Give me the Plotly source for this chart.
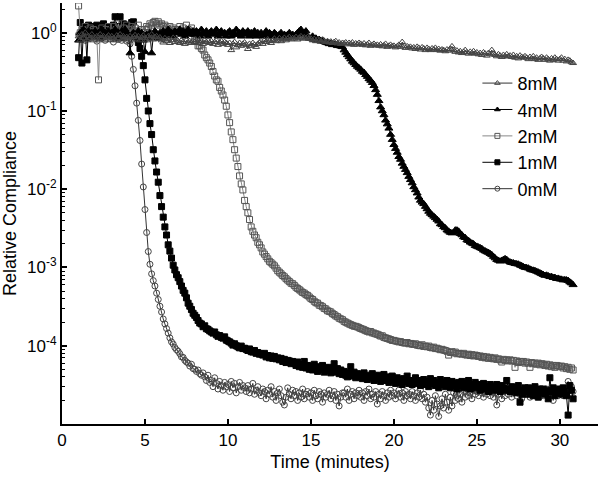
import plotly.graph_objects as go

# sampling grid: one reading every 0.1 min from 1.0 to 30.8 min
time_min = [round(1.0 + 0.1 * i, 1) for i in range(299)]

c_0mM = [
    0.95, 0.85, 1.05, 0.9, 0.8, 1.0, 0.92, 0.85, 1.1, 0.88,
    0.9, 0.78, 0.95, 1.0, 0.85, 0.92, 0.8, 0.97, 0.88, 0.83,
    0.9, 0.76, 0.85, 0.95, 0.82, 0.9, 0.8, 0.86, 0.93, 0.78,
    0.8, 0.72, 0.5, 0.34, 0.21, 0.126, 0.076, 0.042, 0.021, 0.0107,
    0.0055, 0.0028, 0.0016, 0.0011, 8.3e-4, 6.8e-4, 5.8e-4, 4.7e-4, 3.9e-4, 3.2e-4,
    2.7e-4, 2.2e-4, 1.9e-4, 1.66e-4, 1.45e-4, 1.26e-4, 1.12e-4, 1.05e-4, 9.5e-5, 8.9e-5,
    8.5e-5, 7.9e-5, 7.2e-5, 7.1e-5, 6.5e-5, 6.2e-5, 6.0e-5, 5.5e-5, 5.8e-5, 5.1e-5,
    5.0e-5, 4.7e-5, 4.9e-5, 4.4e-5, 4.2e-5, 4.5e-5, 4.0e-5, 3.6e-5, 4.2e-5, 3.4e-5,
    3.6e-5, 3.0e-5, 3.9e-5, 3.3e-5, 2.8e-5, 3.5e-5, 3.1e-5, 2.7e-5, 3.4e-5, 3.0e-5,
    3.2e-5, 2.6e-5, 3.5e-5, 2.9e-5, 3.3e-5, 2.5e-5, 3.0e-5, 3.4e-5, 2.7e-5, 3.1e-5,
    2.9e-5, 2.6e-5, 3.1e-5, 2.5e-5, 2.8e-5, 3.3e-5, 2.4e-5, 2.7e-5, 3.0e-5, 2.5e-5,
    2.3e-5, 2.8e-5, 2.6e-5, 2.1e-5, 2.7e-5, 2.4e-5, 3.0e-5, 2.2e-5, 2.6e-5, 2.0e-5,
    2.5e-5, 2.8e-5, 2.3e-5, 1.9e-5, 1.75e-5, 2.2e-5, 2.9e-5, 2.4e-5, 2.1e-5, 2.7e-5,
    2.3e-5, 2.6e-5, 2.0e-5, 2.5e-5, 2.2e-5, 2.8e-5, 2.1e-5, 2.4e-5, 2.6e-5, 2.2e-5,
    2.5e-5, 2.0e-5, 2.7e-5, 2.3e-5, 2.1e-5, 2.6e-5, 2.4e-5, 1.9e-5, 2.5e-5, 2.2e-5,
    2.4e-5, 2.7e-5, 2.1e-5, 2.3e-5, 2.6e-5, 2.0e-5, 2.4e-5, 1.7e-5, 2.2e-5, 2.5e-5,
    2.5e-5, 2.2e-5, 2.8e-5, 2.0e-5, 2.4e-5, 2.6e-5, 2.1e-5, 2.5e-5, 2.3e-5, 2.7e-5,
    2.2e-5, 2.5e-5, 2.0e-5, 2.6e-5, 2.3e-5, 2.8e-5, 2.1e-5, 2.4e-5, 2.2e-5, 2.6e-5,
    1.8e-5, 2.4e-5, 2.1e-5, 2.6e-5, 2.3e-5, 2.0e-5, 2.5e-5, 2.2e-5, 2.7e-5, 2.3e-5,
    2.5e-5, 2.1e-5, 2.4e-5, 2.7e-5, 2.2e-5, 2.5e-5, 2.0e-5, 2.6e-5, 2.3e-5, 2.4e-5,
    2.1e-5, 2.6e-5, 2.3e-5, 2.0e-5, 2.5e-5, 2.2e-5, 2.7e-5, 2.1e-5, 2.4e-5, 1.9e-5,
    2.2e-5, 1.6e-5, 1.3e-5, 2.0e-5, 1.5e-5, 2.3e-5, 1.8e-5, 1.25e-5, 1.7e-5, 2.1e-5,
    1.6e-5, 2.4e-5, 1.9e-5, 1.5e-5, 2.2e-5, 1.7e-5, 2.5e-5, 2.0e-5, 2.6e-5, 2.1e-5,
    2.4e-5, 1.9e-5, 2.6e-5, 2.2e-5, 2.8e-5, 2.3e-5, 2.5e-5, 2.1e-5, 2.7e-5, 2.4e-5,
    2.6e-5, 2.3e-5, 2.8e-5, 2.5e-5, 2.2e-5, 2.7e-5, 2.4e-5, 2.9e-5, 2.3e-5, 2.6e-5,
    2.2e-5, 2.5e-5, 1.75e-5, 2.4e-5, 2.7e-5, 2.1e-5, 2.6e-5, 2.3e-5, 2.8e-5, 2.4e-5,
    2.6e-5, 2.2e-5, 2.5e-5, 2.9e-5, 2.3e-5, 2.7e-5, 2.4e-5, 2.1e-5, 2.6e-5, 2.8e-5,
    2.4e-5, 2.7e-5, 2.2e-5, 2.5e-5, 2.9e-5, 2.3e-5, 2.6e-5, 2.4e-5, 2.8e-5, 2.5e-5,
    2.3e-5, 2.6e-5, 2.8e-5, 2.2e-5, 2.5e-5, 2.7e-5, 2.0e-5, 2.4e-5, 2.6e-5, 2.3e-5,
    2.5e-5, 2.7e-5, 2.3e-5, 2.6e-5, 2.8e-5, 3.5e-5, 2.4e-5, 3.0e-5, 2.6e-5,
]

c_1mM = [
    0.48, 1.35, 0.41, 1.2, 1.1, 0.45, 1.25, 1.05, 1.2, 1.15,
    1.1, 1.25, 0.95, 1.2, 1.05, 1.3, 1.0, 1.15, 1.2, 0.95,
    1.1, 1.25, 1.6, 1.05, 1.2, 1.6, 1.15, 1.3, 1.1, 1.2,
    1.25, 1.1, 1.35, 1.38, 1.0, 0.9, 0.75, 0.63, 0.5, 0.38,
    0.25, 0.145, 0.1, 0.069, 0.05, 0.032, 0.023, 0.0166, 0.0123, 0.0083,
    0.006, 0.0044, 0.0033, 0.0026, 0.00195, 0.00162, 0.00132, 0.00107, 9.3e-4, 8.1e-4,
    7.4e-4, 6.6e-4, 5.8e-4, 5.1e-4, 4.7e-4, 4.1e-4, 3.5e-4, 3.2e-4, 2.9e-4, 2.6e-4,
    2.45e-4, 2.3e-4, 2.1e-4, 1.95e-4, 1.9e-4, 1.75e-4, 1.8e-4, 1.65e-4, 1.62e-4, 1.55e-4,
    1.5e-4, 1.45e-4, 1.5e-4, 1.38e-4, 1.32e-4, 1.35e-4, 1.28e-4, 1.25e-4, 1.3e-4, 1.18e-4,
    1.15e-4, 1.12e-4, 1.08e-4, 1.02e-4, 1.06e-4, 1.0e-4, 9.7e-5, 9.4e-5, 9.9e-5, 9.2e-5,
    9.3e-5, 9.0e-5, 8.7e-5, 9.1e-5, 8.4e-5, 8.3e-5, 8.7e-5, 8.0e-5, 8.2e-5, 7.8e-5,
    7.9e-5, 7.6e-5, 8.0e-5, 7.2e-5, 7.5e-5, 7.0e-5, 7.4e-5, 6.9e-5, 7.3e-5, 6.8e-5,
    7.0e-5, 6.6e-5, 6.9e-5, 6.3e-5, 6.7e-5, 6.1e-5, 6.5e-5, 6.4e-5, 5.9e-5, 6.3e-5,
    6.0e-5, 5.6e-5, 6.2e-5, 5.4e-5, 5.8e-5, 5.3e-5, 6.3e-5, 5.2e-5, 5.6e-5, 5.0e-5,
    5.5e-5, 4.9e-5, 5.8e-5, 5.1e-5, 4.7e-5, 5.4e-5, 5.0e-5, 5.6e-5, 4.6e-5, 5.2e-5,
    4.8e-5, 5.3e-5, 4.5e-5, 5.0e-5, 5.9e-5, 4.6e-5, 5.1e-5, 4.4e-5, 4.9e-5, 4.3e-5,
    4.7e-5, 4.2e-5, 4.0e-5, 4.5e-5, 5.4e-5, 4.1e-5, 4.6e-5, 3.9e-5, 4.4e-5, 4.0e-5,
    4.3e-5, 3.8e-5, 4.5e-5, 4.0e-5, 3.7e-5, 4.2e-5, 3.9e-5, 4.4e-5, 3.6e-5, 4.1e-5,
    3.8e-5, 4.2e-5, 3.5e-5, 3.9e-5, 4.3e-5, 3.6e-5, 4.0e-5, 3.4e-5, 3.8e-5, 4.1e-5,
    3.6e-5, 3.3e-5, 3.9e-5, 3.4e-5, 3.7e-5, 3.2e-5, 3.8e-5, 3.5e-5, 4.1e-5, 3.3e-5,
    3.6e-5, 3.2e-5, 3.5e-5, 3.9e-5, 3.3e-5, 3.6e-5, 3.1e-5, 3.4e-5, 3.7e-5, 3.2e-5,
    3.5e-5, 3.0e-5, 3.8e-5, 3.3e-5, 3.6e-5, 3.1e-5, 3.4e-5, 2.9e-5, 3.7e-5, 3.2e-5,
    3.4e-5, 3.0e-5, 3.6e-5, 3.2e-5, 2.9e-5, 3.5e-5, 3.1e-5, 3.3e-5, 2.8e-5, 3.4e-5,
    3.1e-5, 3.5e-5, 2.9e-5, 3.3e-5, 3.0e-5, 3.6e-5, 2.8e-5, 3.2e-5, 3.0e-5, 3.4e-5,
    2.9e-5, 3.2e-5, 2.7e-5, 3.1e-5, 3.3e-5, 2.8e-5, 3.0e-5, 2.6e-5, 3.2e-5, 2.9e-5,
    3.0e-5, 2.7e-5, 3.2e-5, 2.8e-5, 2.6e-5, 3.1e-5, 2.9e-5, 2.7e-5, 3.6e-5, 2.8e-5,
    2.6e-5, 3.0e-5, 2.7e-5, 2.9e-5, 2.5e-5, 3.1e-5, 1.9e-5, 2.7e-5, 2.4e-5, 2.9e-5,
    2.6e-5, 2.9e-5, 2.4e-5, 2.8e-5, 2.3e-5, 3.0e-5, 2.6e-5, 2.2e-5, 2.8e-5, 2.5e-5,
    2.8e-5, 2.4e-5, 2.7e-5, 2.1e-5, 3.9e-5, 2.6e-5, 2.9e-5, 2.3e-5, 2.7e-5, 2.5e-5,
    2.8e-5, 2.4e-5, 2.9e-5, 2.6e-5, 2.3e-5, 1.3e-5, 3.1e-5, 2.7e-5, 2.1e-5,
]

c_2mM = [
    2.2, 1.0, 1.1, 0.85, 1.2, 0.9, 1.05, 1.15, 0.95, 1.1,
    1.05, 0.9, 0.25, 1.0, 1.15, 0.95, 1.1, 0.9, 1.2, 1.0,
    1.0, 1.2, 0.95, 1.1, 1.3, 1.05, 0.9, 1.15, 1.0, 1.25,
    1.1, 1.0, 1.2, 0.95, 1.15, 1.05, 1.25, 0.95, 1.1, 1.0,
    1.1, 1.2, 1.15, 1.3, 1.25, 1.35, 1.4, 1.3, 1.38, 1.25,
    1.3, 1.2, 1.25, 1.15, 1.1, 1.2, 1.05, 1.15, 1.1, 1.0,
    1.1, 1.2, 1.05, 1.15, 1.0, 1.25, 1.1, 1.05, 1.15, 1.0,
    0.9, 0.8, 0.68, 0.68, 0.63, 0.6, 0.52, 0.48, 0.45, 0.41,
    0.37, 0.32, 0.28, 0.25, 0.24, 0.2, 0.18, 0.16, 0.138, 0.115,
    0.089, 0.071, 0.054, 0.043, 0.032, 0.025, 0.0195, 0.0148, 0.0117, 0.0098,
    0.0072, 0.006, 0.005, 0.0041, 0.0033, 0.0029, 0.0026, 0.0024, 0.0021, 0.00195,
    0.00178, 0.00158, 0.00148, 0.00138, 0.00129, 0.0012, 0.00115, 0.0011, 0.00105, 9.8e-4,
    9.1e-4, 8.7e-4, 8.3e-4, 7.9e-4, 7.6e-4, 7.2e-4, 6.9e-4, 6.6e-4, 6.3e-4, 6.2e-4,
    5.9e-4, 5.6e-4, 5.4e-4, 5.2e-4, 5.0e-4, 4.8e-4, 4.7e-4, 4.5e-4, 4.4e-4, 4.2e-4,
    4.0e-4, 3.9e-4, 3.7e-4, 3.55e-4, 3.5e-4, 3.3e-4, 3.25e-4, 3.15e-4, 3.0e-4, 2.95e-4,
    2.8e-4, 2.75e-4, 2.7e-4, 2.57e-4, 2.5e-4, 2.4e-4, 2.35e-4, 2.25e-4, 2.2e-4, 2.15e-4,
    2.05e-4, 2.0e-4, 1.95e-4, 1.9e-4, 1.86e-4, 1.82e-4, 1.78e-4, 1.77e-4, 1.74e-4, 1.7e-4,
    1.66e-4, 1.63e-4, 1.6e-4, 1.56e-4, 1.53e-4, 1.5e-4, 1.52e-4, 1.46e-4, 1.45e-4, 1.42e-4,
    1.4e-4, 1.37e-4, 1.33e-4, 1.34e-4, 1.28e-4, 1.26e-4, 1.24e-4, 1.22e-4, 1.2e-4, 1.17e-4,
    1.17e-4, 1.15e-4, 1.14e-4, 1.12e-4, 1.13e-4, 1.1e-4, 1.09e-4, 1.08e-4, 1.1e-4, 1.06e-4,
    1.07e-4, 1.05e-4, 1.04e-4, 1.06e-4, 1.02e-4, 1.01e-4, 1.0e-4, 1.03e-4, 9.8e-5, 9.9e-5,
    9.7e-5, 9.9e-5, 9.5e-5, 9.4e-5, 9.6e-5, 9.2e-5, 9.3e-5, 9.1e-5, 8.9e-5, 9.0e-5,
    8.8e-5, 8.7e-5, 8.5e-5, 7.6e-5, 8.2e-5, 8.4e-5, 8.1e-5, 8.3e-5, 7.9e-5, 8.0e-5,
    7.9e-5, 7.8e-5, 8.0e-5, 7.7e-5, 7.6e-5, 7.8e-5, 7.5e-5, 7.7e-5, 7.4e-5, 7.6e-5,
    7.5e-5, 7.3e-5, 7.4e-5, 7.1e-5, 7.3e-5, 7.0e-5, 7.2e-5, 6.9e-5, 7.1e-5, 6.9e-5,
    6.8e-5, 7.0e-5, 6.7e-5, 6.8e-5, 6.6e-5, 6.2e-5, 6.7e-5, 6.5e-5, 6.6e-5, 6.4e-5,
    6.6e-5, 6.4e-5, 6.5e-5, 5.3e-5, 6.4e-5, 6.1e-5, 6.3e-5, 6.2e-5, 6.3e-5, 6.0e-5,
    6.2e-5, 6.0e-5, 5.3e-5, 6.1e-5, 5.9e-5, 6.0e-5, 5.8e-5, 6.0e-5, 5.7e-5, 5.9e-5,
    5.8e-5, 5.6e-5, 5.8e-5, 5.5e-5, 5.7e-5, 5.4e-5, 5.6e-5, 5.3e-5, 5.6e-5, 5.5e-5,
    5.4e-5, 5.5e-5, 5.2e-5, 5.4e-5, 5.1e-5, 5.3e-5, 5.0e-5, 5.2e-5, 4.9e-5,
]

c_4mM = [
    0.8, 1.0, 0.9, 1.1, 0.95, 0.85, 1.05, 0.9, 1.0, 0.95,
    1.05, 0.9, 1.0, 0.85, 1.1, 0.95, 1.0, 0.9, 1.05, 0.95,
    1.0, 0.9, 1.1, 0.95, 1.0, 0.85, 1.05, 0.95, 1.1, 1.0,
    0.95, 0.55, 0.9, 1.0, 0.85, 0.95, 1.05, 0.9, 1.0, 0.8,
    0.57, 0.95, 0.85, 1.0, 0.55, 0.9, 1.05, 0.95, 0.85, 1.0,
    0.95, 1.05, 0.9, 1.0, 1.1, 0.95, 1.0, 0.9, 1.05, 1.0,
    1.0, 1.1, 0.95, 1.05, 0.9, 1.0, 1.1, 0.95, 1.0, 1.05,
    0.95, 1.05, 1.0, 0.9, 1.1, 1.0, 0.95, 1.05, 0.9, 1.0,
    1.05, 0.95, 1.0, 1.1, 0.9, 1.0, 1.05, 0.95, 1.0, 0.9,
    1.0, 1.05, 0.9, 1.0, 0.95, 1.1, 0.95, 1.0, 0.9, 1.05,
    0.95, 1.0, 1.05, 0.9, 1.0, 0.95, 1.05, 0.9, 1.0, 0.95,
    1.0, 0.9, 0.95, 1.05, 0.9, 1.0, 0.95, 0.9, 1.0, 0.95,
    0.9, 0.95, 1.0, 0.9, 0.95, 0.85, 0.95, 1.0, 0.9, 0.95,
    0.9, 0.95, 1.0, 1.05, 1.1, 1.0, 0.95, 1.05, 0.9, 0.85,
    0.85, 0.9, 0.82, 0.85, 0.8, 0.82, 0.78, 0.8, 0.77, 0.75,
    0.74, 0.72, 0.73, 0.7, 0.71, 0.7, 0.68, 0.69, 0.67, 0.66,
    0.6, 0.56, 0.52, 0.49, 0.46, 0.43, 0.41, 0.39, 0.37, 0.355,
    0.34, 0.32, 0.31, 0.29, 0.275, 0.257, 0.245, 0.23, 0.21, 0.186,
    0.162, 0.135, 0.112, 0.1, 0.089, 0.076, 0.068, 0.06, 0.05, 0.043,
    0.037, 0.033, 0.0295, 0.026, 0.024, 0.0214, 0.0195, 0.0178, 0.0162, 0.0145,
    0.0132, 0.012, 0.0107, 0.0098, 0.0089, 0.0079, 0.0072, 0.0068, 0.0065, 0.006,
    0.0056, 0.0052, 0.0049, 0.0047, 0.0045, 0.0043, 0.0041, 0.0039, 0.0036, 0.0035,
    0.0033, 0.0032, 0.003, 0.0029, 0.0028, 0.00275, 0.0028, 0.003, 0.003, 0.0029,
    0.0027, 0.0026, 0.00245, 0.0024, 0.00224, 0.0022, 0.0021, 0.00204, 0.002, 0.0019,
    0.00186, 0.00182, 0.00178, 0.00174, 0.00166, 0.00162, 0.00158, 0.00155, 0.0015, 0.00145,
    0.00138, 0.00132, 0.00126, 0.00123, 0.0012, 0.00123, 0.00126, 0.00129, 0.00126, 0.0012,
    0.00117, 0.00115, 0.00114, 0.00112, 0.00111, 0.0011, 0.00107, 0.00105, 0.00102, 0.001,
    9.9e-4, 9.8e-4, 9.5e-4, 9.3e-4, 9.2e-4, 9.1e-4, 8.9e-4, 8.7e-4, 8.5e-4, 8.3e-4,
    8.1e-4, 7.9e-4, 7.95e-4, 7.8e-4, 7.6e-4, 7.65e-4, 7.4e-4, 7.45e-4, 7.2e-4, 7.25e-4,
    7.1e-4, 7.05e-4, 6.9e-4, 6.95e-4, 6.9e-4, 6.8e-4, 6.5e-4, 6.3e-4, 6.0e-4,
]

c_8mM = [
    0.9, 0.8, 0.95, 0.85, 1.0, 0.8, 0.9, 0.85, 0.95, 0.8,
    0.85, 0.9, 0.8, 0.95, 0.85, 0.9, 0.8, 0.88, 0.92, 0.82,
    0.9, 0.85, 0.8, 0.92, 0.86, 0.95, 0.82, 0.9, 0.85, 0.88,
    0.85, 0.9, 0.8, 0.88, 0.93, 0.84, 0.9, 0.8, 0.87, 0.92,
    0.85, 0.8, 0.9, 0.84, 0.95, 0.82, 0.88, 0.9, 0.83, 0.87,
    0.8, 0.75, 0.85, 0.78, 0.82, 0.74, 0.8, 0.86, 0.76, 0.82,
    0.78, 0.74, 0.8, 0.76, 0.72, 0.8, 0.75, 0.78, 0.74, 0.8,
    0.76, 0.8, 0.74, 0.82, 0.78, 0.72, 0.8, 0.76, 0.79, 0.74,
    0.78, 0.72, 0.76, 0.8, 0.7, 0.75, 0.78, 0.72, 0.76, 0.74,
    0.7, 0.74, 0.6, 0.72, 0.76, 0.65, 0.7, 0.74, 0.68, 0.72,
    0.75, 0.7, 0.62, 0.72, 0.68, 0.74, 0.7, 0.66, 0.72, 0.75,
    0.78, 0.72, 0.8, 0.76, 0.82, 0.78, 0.74, 0.8, 0.84, 0.78,
    0.8, 0.85, 0.78, 0.82, 0.86, 0.8, 0.84, 0.88, 0.82, 0.85,
    0.84, 0.88, 0.82, 0.86, 0.9, 0.84, 0.87, 0.85, 0.88, 0.84,
    0.84, 0.8, 0.83, 0.78, 0.82, 0.8, 0.77, 0.81, 0.79, 0.76,
    0.78, 0.75, 0.77, 0.74, 0.76, 0.78, 0.73, 0.75, 0.72, 0.74,
    0.73, 0.75, 0.71, 0.74, 0.72, 0.75, 0.7, 0.73, 0.71, 0.74,
    0.72, 0.7, 0.73, 0.69, 0.71, 0.74, 0.68, 0.7, 0.72, 0.69,
    0.7, 0.68, 0.71, 0.67, 0.69, 0.72, 0.66, 0.68, 0.7, 0.67,
    0.68, 0.65, 0.67, 0.7, 0.66, 0.76, 0.68, 0.64, 0.67, 0.65,
    0.66, 0.63, 0.65, 0.62, 0.66, 0.64, 0.61, 0.65, 0.63, 0.6,
    0.64, 0.62, 0.6, 0.63, 0.61, 0.64, 0.6, 0.62, 0.59, 0.61,
    0.6, 0.58, 0.61, 0.59, 0.62, 0.67, 0.6, 0.57, 0.59, 0.56,
    0.58, 0.55, 0.57, 0.6, 0.56, 0.54, 0.57, 0.55, 0.58, 0.54,
    0.56, 0.53, 0.55, 0.52, 0.56, 0.54, 0.51, 0.55, 0.53, 0.6,
    0.54, 0.52, 0.5, 0.53, 0.51, 0.49, 0.52, 0.5, 0.53, 0.5,
    0.51, 0.49, 0.52, 0.48, 0.5, 0.47, 0.51, 0.49, 0.48, 0.5,
    0.48, 0.46, 0.49, 0.47, 0.5, 0.46, 0.48, 0.45, 0.47, 0.49,
    0.47, 0.45, 0.48, 0.46, 0.44, 0.47, 0.45, 0.48, 0.46, 0.44,
    0.46, 0.48, 0.44, 0.46, 0.43, 0.45, 0.44, 0.42, 0.41,
]

for name, arr in [("0", c_0mM), ("1", c_1mM), ("2", c_2mM), ("4", c_4mM), ("8", c_8mM)]:
    assert len(arr) == len(time_min), (name, len(arr))

labels = ["0mM", "1mM", "2mM", "4mM", "8mM"]
series = [c_0mM, c_1mM, c_2mM, c_4mM, c_8mM]
symbols = ["circle-open", "square", "square-open", "triangle-up", "triangle-up-open"]
marker_colors = ["#444444", "#000000", "#555555", "#000000", "#444444"]
line_colors = ["#333333", "#000000", "#888888", "#000000", "#333333"]
marker_sizes = [6, 6, 6, 7, 6]

FONT = "Liberation Sans, Arial, Helvetica, sans-serif"

fig = go.Figure()
# data traces
for lab, vals, sym, mc, lc, ms in zip(labels, series, symbols, marker_colors, line_colors, marker_sizes):
    fig.add_trace(go.Scatter(
        x=time_min, y=vals, name=lab, mode="lines+markers", showlegend=False,
        line=dict(color=lc, width=1),
        marker=dict(symbol=sym, size=ms, color=mc, line=dict(color=mc, width=1)),
    ))
# legend entries with the smaller key symbols seen in the reference legend
for lab, sym, mc, lc in zip(labels, symbols, marker_colors, line_colors):
    fig.add_trace(go.Scatter(
        x=[None], y=[None], name=lab, mode="lines+markers", showlegend=True,
        line=dict(color=lc, width=1),
        marker=dict(symbol=sym, size=5, color=mc, line=dict(color=mc, width=1)),
    ))

major = [1e-4, 1e-3, 1e-2, 1e-1, 1]
major_text = ["10<sup>-4</sup>", "10<sup>-3</sup>", "10<sup>-2</sup>", "10<sup>-1</sup>", "10<sup>0</sup>"]
minor_vals = [m * 10.0 ** k for k in range(-5, 1) for m in range(2, 10)]

fig.update_layout(
    width=601, height=477,
    margin=dict(l=62, r=3, t=3, b=53, autoexpand=False),
    plot_bgcolor="white", paper_bgcolor="white",
    font=dict(family=FONT, size=17, color="black"),
    showlegend=True,
    legend=dict(
        x=0.775, y=0.853, xanchor="left", yanchor="top",
        bgcolor="rgba(0,0,0,0)", traceorder="reversed",
        font=dict(family=FONT, size=18, color="black"),
        itemwidth=30, itemsizing="trace",
    ),
)
fig.update_xaxes(
    range=[0, 32.3], tickvals=[0, 5, 10, 15, 20, 25, 30],
    ticks="inside", ticklen=5, tickwidth=1.5, tickcolor="black",
    showline=True, linewidth=2, linecolor="black",
    showgrid=False, zeroline=False, automargin=False,
    title=dict(text="Time (minutes)", font=dict(family=FONT, size=18), standoff=6),
    tickfont=dict(family=FONT, size=17),
)
fig.update_yaxes(
    type="log", range=[-5, 0.38],
    tickvals=major, ticktext=major_text,
    ticks="inside", ticklen=5, tickwidth=1.5, tickcolor="black",
    minor=dict(tickvals=minor_vals, ticks="inside", ticklen=3, tickwidth=1, tickcolor="black", showgrid=False),
    showline=True, linewidth=2, linecolor="black",
    showgrid=False, zeroline=False, automargin=False,
    title=dict(text="Relative Compliance", font=dict(family=FONT, size=18), standoff=6),
    tickfont=dict(family=FONT, size=17),
)

fig.write_html(
    "out.html",
    config={"displayModeBar": False},
    post_script="document.body.style.margin='0';document.body.style.overflow='hidden';",
)
